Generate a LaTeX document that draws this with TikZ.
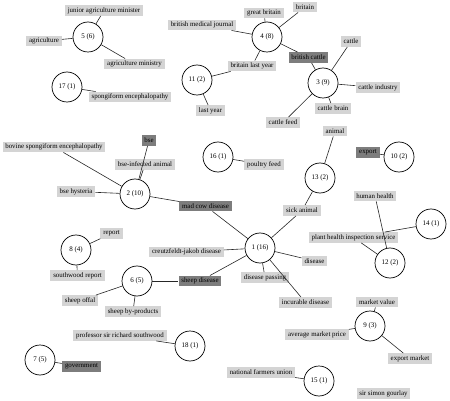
\documentclass[tikz,border=0pt]{standalone}
\usepackage{fontspec}
\setmainfont{Liberation Serif}
\definecolor{lightlab}{RGB}{212,212,212}
\definecolor{darklab}{RGB}{125,125,125}
\begin{document}
\begin{tikzpicture}[x=1pt,y=-1pt,
  cl/.style={circle,draw=black,line width=0.7pt,fill=white,minimum size=30pt,inner sep=0pt,font=\fontsize{7}{8}\selectfont},
  lab/.style={fill=lightlab,inner xsep=2.8pt,inner ysep=0pt,minimum height=10.5pt,font=\fontsize{6.9}{8}\selectfont},
  dlab/.style={lab,fill=darklab},
  edge/.style={draw=black!85,line width=0.6pt}]
\useasboundingbox (0,0) rectangle (450,401);
% labels
\node[lab] (jam) at (104,10.5) {junior agriculture minister};
\node[lab] (agr) at (44,41) {agriculture};
\node[lab] (agm) at (134.5,64) {agriculture ministry};
\node[lab] (spe) at (130,97) {spongiform encephalopathy};
\node[lab] (bmj) at (202,25) {british medical journal};
\node[lab] (lyr) at (210.5,110.5) {last year};
\node[lab] (gbr) at (264,13) {great britain};
\node[lab] (bri) at (305,7) {britain};
\node[dlab] (bca) at (308.5,57.5) {british cattle};
\node[lab] (bly) at (252,66) {britain last year};
\node[lab] (cat) at (351,41.5) {cattle};
\node[lab] (cin) at (378,87.5) {cattle industry};
\node[lab] (cbr) at (333,108.5) {cattle brain};
\node[lab] (cfe) at (283,122.5) {cattle feed};
\node[lab] (ani) at (335,131) {animal};
\node[lab] (bov) at (54,147) {bovine spongiform encephalopathy};
\node[dlab] (bse) at (149,140.5) {bse};
\node[lab] (bia) at (145,164.5) {bse-infected animal};
\node[lab] (bhy) at (76,191.5) {bse hysteria};
\node[dlab] (mcd) at (205.5,206) {mad cow disease};
\node[lab] (pfe) at (264,164.5) {poultry feed};
\node[dlab] (exp) at (368,152.5) {export};
\node[lab] (hhe) at (375,196) {human health};
\node[lab] (phi) at (353.5,237.5) {plant health inspection service};
\node[lab] (sic) at (302,210.5) {sick animal};
\node[lab] (cjd) at (186.5,252) {creutzfeldt-jakob disease};
\node[lab] (dis) at (314.5,261) {disease};
\node[lab] (dpa) at (265,277.5) {disease passing};
\node[dlab] (shd) at (200,281) {sheep disease};
\node[lab] (rep) at (111.5,233.5) {report};
\node[lab] (swr) at (77.5,275.5) {southwood report};
\node[lab] (sho) at (80,300.5) {sheep offal};
\node[lab] (sbp) at (133,311.5) {sheep by-products};
\node[lab] (prs) at (120,335.5) {professor sir richard southwood};
\node[dlab] (gov) at (81.5,366.5) {government};
\node[lab] (inc) at (305.5,302.5) {incurable disease};
\node[lab] (mva) at (377,302) {market value};
\node[lab] (amp) at (317,334.5) {average market price};
\node[lab] (exm) at (410,358.5) {export market};
\node[lab] (nfu) at (261,372.5) {national farmers union};
\node[lab] (ssg) at (383.5,393.5) {sir simon gourlay};
% clusters
\node[cl] (c5) at (88,37) {5 (6)};
\node[cl] (c17) at (67,87) {17 (1)};
\node[cl] (c11) at (197,80) {11 (2)};
\node[cl] (c4) at (267,37) {4 (8)};
\node[cl] (c3) at (323,83) {3 (9)};
\node[cl] (c2) at (135,194) {2 (10)};
\node[cl] (c16) at (218,157) {16 (1)};
\node[cl] (c13) at (320,178) {13 (2)};
\node[cl] (c10) at (399,157) {10 (2)};
\node[cl] (c14) at (431,224) {14 (1)};
\node[cl] (c12) at (390,263) {12 (2)};
\node[cl] (c1) at (260,248) {1 (16)};
\node[cl] (c6) at (137,281) {6 (5)};
\node[cl] (c8) at (76,250) {8 (4)};
\node[cl] (c18) at (190,346) {18 (1)};
\node[cl] (c7) at (40,360) {7 (5)};
\node[cl] (c9) at (370,326) {9 (3)};
\node[cl] (c15) at (319,381) {15 (1)};
% edges
\foreach \a/\b in {c5/jam,c5/agr,c5/agm,c17/spe,
  c4/bmj,c4/gbr,c4/bri,c4/bca,c4/bly,c11/bly,c11/lyr,
  c3/bca,c3/cat,c3/cin,c3/cbr,c3/cfe,
  c2/bov,c2/bse,c2/bia,c2/bhy,c2/mcd,
  c16/pfe,c13/ani,c13/sic,c10/exp,
  c12/hhe,c12/phi,c14/phi,
  c1/mcd,c1/sic,c1/cjd,c1/dis,c1/dpa,c1/inc,c1/shd,
  c6/shd,c6/sho,c6/sbp,c8/rep,c8/swr,c18/prs,c7/gov,
  c9/mva,c9/amp,c9/exm,c15/nfu}
  \draw[edge] (\a) -- (\b);
\end{tikzpicture}
\end{document}
